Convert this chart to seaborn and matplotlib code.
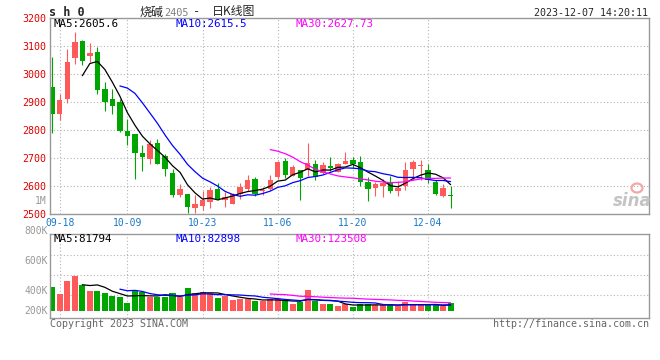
import numpy as np
import pandas as pd
import matplotlib
matplotlib.use("Agg")
import matplotlib.pyplot as plt
from matplotlib.patches import Ellipse
import seaborn as sns

# 烧碱2405 日K线 (2023-09-15 .. 2023-12-07)
opens = [2956, 2859, 2913, 3059, 3120, 3066, 3080, 2948, 2912, 2901,
         2797, 2787, 2719, 2696, 2754, 2708, 2648, 2568, 2572, 2524,
         2530, 2545, 2589, 2551, 2538, 2572, 2591, 2626, 2582, 2591,
         2632, 2691, 2638, 2658, 2658, 2680, 2649, 2672, 2652, 2680,
         2694, 2687, 2615, 2594, 2601, 2611, 2582, 2601, 2662, 2673,
         2658, 2615, 2565, 2570]
closes = [2858, 2908, 3045, 3115, 3049, 3075, 2945, 2902, 2888, 2799,
          2781, 2720, 2706, 2751, 2681, 2661, 2568, 2589, 2527, 2537,
          2551, 2587, 2556, 2561, 2571, 2596, 2622, 2574, 2587, 2622,
          2688, 2640, 2670, 2631, 2684, 2632, 2675, 2667, 2680, 2690,
          2679, 2615, 2591, 2608, 2612, 2584, 2595, 2658, 2688, 2674,
          2622, 2574, 2594, 2566]
highs = [3063, 2929, 3090, 3152, 3124, 3111, 3098, 2971, 2946, 2912,
         2842, 2787, 2748, 2764, 2769, 2714, 2660, 2608, 2572, 2568,
         2584, 2596, 2610, 2580, 2577, 2613, 2639, 2632, 2596, 2639,
         2692, 2702, 2675, 2658, 2755, 2694, 2686, 2704, 2684, 2723,
         2706, 2708, 2632, 2616, 2625, 2638, 2619, 2687, 2694, 2694,
         2680, 2622, 2608, 2601]
lows = [2791, 2837, 2899, 3038, 3033, 3043, 2931, 2870, 2859, 2795,
        2748, 2626, 2656, 2679, 2681, 2637, 2563, 2563, 2506, 2506,
        2515, 2524, 2551, 2525, 2538, 2556, 2584, 2565, 2570, 2587,
        2627, 2630, 2636, 2551, 2637, 2623, 2645, 2655, 2650, 2680,
        2664, 2601, 2548, 2565, 2563, 2575, 2565, 2586, 2623, 2623,
        2613, 2569, 2561, 2524]
volumes = [336000, 238000, 420000, 490000, 364000, 280000, 280000, 252000, 215000, 201000,
           112000, 294000, 266000, 196000, 196000, 196000, 252000, 191000, 322000, 252000,
           266000, 252000, 182000, 210000, 154000, 173000, 173000, 140000, 140000, 163000,
           163000, 140000, 103000, 126000, 294000, 140000, 98000, 98000, 70000, 98000,
           65000, 98000, 98000, 84000, 84000, 84000, 70000, 135000, 84000, 84000,
           84000, 84000, 70000, 112000]

tick_labels = ['09-18', '10-09', '10-23', '11-06', '11-20', '12-04']
price_ticks = [2500, 2600, 2700, 2800, 2900, 3000, 3100, 3200]
vol_labels = ['800K', '600K', '400K', '200K']

# 交易日 (国庆休市)
days = pd.bdate_range('2023-09-15', '2023-12-07')
days = days[(days < '2023-09-29') | (days > '2023-10-06')]
df = pd.DataFrame({'date': days.strftime('%m-%d'), 'open': opens, 'close': closes,
                   'high': highs, 'low': lows, 'vol': volumes})
df['i'] = np.arange(len(df))
for n in (5, 10, 30):
    df[f'ma{n}'] = df['close'].rolling(n).mean()
    df[f'vma{n}'] = df['vol'].rolling(n).mean()
tick_idx = [int(df.index[df['date'] == t][0]) for t in tick_labels]

RED, GREEN = '#ff5a5a', '#00a600'
df['color'] = np.where(df['close'] >= df['open'], RED, GREEN)

sns.set_style('white')
plt.rcParams['font.family'] = ['DejaVu Sans Mono', 'DejaVu Sans']
MONO = 'DejaVu Sans Mono'
GRID = dict(color='#b4b4b4', linestyle=(0, (1, 2)), linewidth=0.8)

fig = plt.figure(figsize=(6.6, 3.6), dpi=100)
W, H = 660, 360
ax = fig.add_axes([50 / W, 1 - 214.3 / H, 599 / W, 196 / H])
axv = fig.add_axes([50 / W, 1 - 318.3 / H, 599 / W, 84 / H])

# ---- K线
ax.vlines(df['i'], df['low'], df['high'], colors=df['color'], linewidth=0.8)
body = np.maximum((df['close'] - df['open']).abs(), 3)
ax.bar(df['i'], body, bottom=np.minimum(df['open'], df['close']), width=0.72,
       color=df['color'], linewidth=0)
sns.lineplot(data=df, x='i', y='ma5', ax=ax, color='black', linewidth=0.9)
sns.lineplot(data=df, x='i', y='ma10', ax=ax, color='#0000ff', linewidth=0.9)
sns.lineplot(data=df, x='i', y='ma30', ax=ax, color='#ff00ff', linewidth=0.9)

ax.set_xlim(-0.3, 79.4)
ax.set_ylim(2500, 3200)
ax.set_yticks(price_ticks)
ax.set_yticklabels([str(p) for p in price_ticks], color='#e00000', fontsize=7.2)
ax.set_xticks(tick_idx)
ax.set_xticklabels(tick_labels, color='#1878c8', fontsize=7)
ax.tick_params(length=0, pad=2.5)
ax.grid(True, **GRID)
ax.set_xlabel('')
ax.set_ylabel('')

# ---- 成交量
axv.bar(df['i'], df['vol'], width=0.8, color=df['color'], linewidth=0)
sns.lineplot(data=df, x='i', y='vma5', ax=axv, color='black', linewidth=0.9)
sns.lineplot(data=df, x='i', y='vma10', ax=axv, color='#0000ff', linewidth=0.9)
sns.lineplot(data=df, x='i', y='vma30', ax=axv, color='#ff00ff', linewidth=0.9)
axv.set_xlim(-0.3, 79.4)
axv.set_ylim(-100000, 1075000)
axv.set_xticks(tick_idx)
axv.set_yticks([220000, 500000, 780000])
axv.set_xticklabels([])
axv.set_yticklabels([])
axv.tick_params(length=0)
axv.grid(True, **GRID)
axv.set_xlabel('')
axv.set_ylabel('')
for lab, v in zip(vol_labels, [1120000, 700000, 280000, 0]):
    axv.text(-0.05 / 0.9076 * 0.07, v, lab, transform=axv.get_yaxis_transform(),
             ha='right', va='center', color='#999999', fontsize=7, family=MONO)

for a in (ax, axv):
    for s in a.spines.values():
        s.set_color('#999999')
        s.set_linewidth(1)

# ---- 文字
def ftext(x, y, s, **kw):
    fig.text(x / W, 1 - y / H, s, **kw)

ftext(49, 12, 's h 0', fontsize=8.5, fontweight='bold', va='center', family=MONO)
cjk = ['Noto Sans CJK SC', 'DejaVu Sans']
ftext(140, 12, '烧碱', fontsize=8.6, va='center', family=cjk)
ftext(164, 12.5, '2405', fontsize=7.4, va='center', color='#808080', family=MONO)
ftext(193, 12, '-', fontsize=8.6, va='center', family=MONO)
ftext(212, 12, '日K线图', fontsize=8.6, va='center', family=cjk)
ftext(648, 12.5, '2023-12-07 14:20:11', fontsize=7.2, ha='right', va='center', family=MONO)

ftext(54, 24, 'MA5:2605.6', fontsize=7.8, va='center', family=MONO, color='black')
ftext(175, 24, 'MA10:2615.5', fontsize=7.8, va='center', family=MONO, color='#0000ff')
ftext(296, 24, 'MA30:2627.73', fontsize=7.8, va='center', family=MONO, color='#ff00ff')
ftext(54, 238.5, 'MA5:81794', fontsize=7.8, va='center', family=MONO, color='black')
ftext(175, 238.5, 'MA10:82898', fontsize=7.8, va='center', family=MONO, color='#0000ff')
ftext(295, 238.5, 'MA30:123508', fontsize=7.8, va='center', family=MONO, color='#ff00ff')

ftext(47, 200.5, '1M', fontsize=7, ha='right', va='center', color='#999999', family=MONO)
ftext(50, 324, 'Copyright 2023 SINA.COM', fontsize=7.2, va='center', color='#666666', family=MONO)
ftext(649, 324, 'http://finance.sina.com.cn', fontsize=7.2, ha='right', va='center',
      color='#666666', family=MONO)

# sina 水印
ftext(632, 201, 'sina', fontsize=12, fontweight='bold', style='italic', ha='center',
      va='center', color='#c4c4c4', family='DejaVu Sans')
fig.patches.append(Ellipse((637 / W, 1 - 188 / H), 11 / W, 9 / H, transform=fig.transFigure,
                           fill=False, edgecolor='#f2a8a8', linewidth=1.6))

fig.savefig('out.png', dpi=100)
